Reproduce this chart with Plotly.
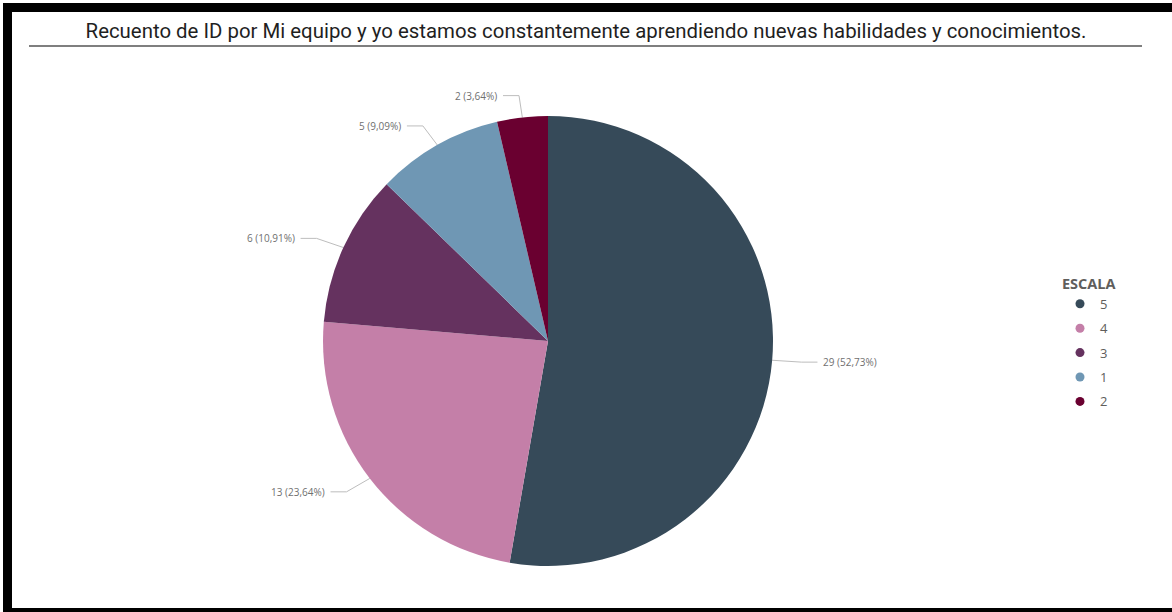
import math
import plotly.graph_objects as go

# Count of IDs per answer on the 1-5 scale
categories = ["5", "4", "3", "1", "2"]
counts = [29, 13, 6, 5, 2]
slice_colors = ["#364A59", "#C47FA8", "#65325F", "#6F97B4", "#6A0030"]

TITLE = "Recuento de ID por Mi equipo y yo estamos constantemente aprendiendo nuevas habilidades y conocimientos."
LEGEND_TITLE = "ESCALA"

W, H = 1172, 612
CX, CY, R = 548, 341, 225  # pie centre and radius in pixels

total = sum(counts)
labels = [f"{v} ({v / total * 100:.2f}%)".replace(".", ",") for v in counts]

fig = go.Figure()

fig.add_trace(go.Pie(
    labels=categories,
    values=counts,
    sort=False,
    direction="clockwise",
    rotation=0,
    marker=dict(colors=slice_colors, line=dict(width=0)),
    textinfo="none",
    textposition="none",
    showlegend=False,
    hoverinfo="label+value+percent",
    domain=dict(x=[(CX - R) / W, (CX + R) / W],
                y=[(H - CY - R) / H, (H - CY + R) / H]),
))

# Leader lines and data labels, placed at the middle angle of each slice
annotations = []
cum = 0
for cat, v, lab in zip(categories, counts, labels):
    mid = (cum + v / 2) / total * 2 * math.pi
    cum += v
    sx, sy = math.sin(mid), -math.cos(mid)
    x0, y0 = CX + R * sx, CY + R * sy
    x1, y1 = CX + (R + 22) * sx * 1.03, CY + (R + 22) * sy
    side = 1 if sx >= 0 else -1
    x2 = x1 + side * 16
    fig.add_trace(go.Scatter(
        x=[x0, x1, x2], y=[y0, y1, y1], mode="lines",
        line=dict(color="#BDBDBD", width=1),
        hoverinfo="skip", showlegend=False,
    ))
    annotations.append(dict(
        x=x2 + side * 4, y=y1, xref="x", yref="y", text=lab, showarrow=False,
        xanchor="left" if side > 0 else "right", yanchor="middle",
        font=dict(family="Open Sans, sans-serif", size=10, color="#707070"),
    ))

# Legend entries with round markers
for cat, col in zip(categories, slice_colors):
    fig.add_trace(go.Scatter(
        x=[None], y=[None], mode="markers", name=cat, legendgroup=cat,
        marker=dict(symbol="circle", size=9, color=col),
    ))

fig.update_layout(
    width=W, height=H, autosize=False,
    margin=dict(l=0, r=0, t=0, b=0),
    paper_bgcolor="white", plot_bgcolor="rgba(0,0,0,0)",
    xaxis=dict(range=[0, W], visible=False, fixedrange=True, domain=[0, 1]),
    yaxis=dict(range=[H, 0], visible=False, fixedrange=True, domain=[0, 1]),
    title=dict(text=TITLE, x=586 / W, xanchor="center", y=1 - 31 / H, yanchor="middle",
               font=dict(family="Roboto, sans-serif", size=20.4, color="#1F1F1F")),
    legend=dict(
        title=dict(text=f"<b>{LEGEND_TITLE}</b>",
                   font=dict(family="Open Sans, sans-serif", size=14.5, color="#605E5C")),
        x=1060 / W, xanchor="left", y=1 - 270 / H, yanchor="top",
        font=dict(family="Open Sans, sans-serif", size=13, color="#605E5C"),
        tracegroupgap=4.5, itemsizing="trace", itemwidth=30, bgcolor="rgba(0,0,0,0)",
    ),
    annotations=annotations,
    shapes=[
        # title underline
        dict(type="line", xref="paper", yref="paper", x0=29 / W, x1=1142 / W,
             y0=1 - 46 / H, y1=1 - 46 / H, line=dict(color="#7F7F7F", width=2)),
        # black frame (top, left, bottom)
        dict(type="rect", xref="paper", yref="paper", x0=3 / W, x1=1, y0=1 - 12 / H, y1=1 - 3 / H,
             fillcolor="black", line=dict(width=0)),
        dict(type="rect", xref="paper", yref="paper", x0=3 / W, x1=12 / W, y0=0, y1=1 - 3 / H,
             fillcolor="black", line=dict(width=0)),
        dict(type="rect", xref="paper", yref="paper", x0=3 / W, x1=1, y0=0, y1=4 / H,
             fillcolor="black", line=dict(width=0)),
    ],
)

fig.write_html("out.html")
